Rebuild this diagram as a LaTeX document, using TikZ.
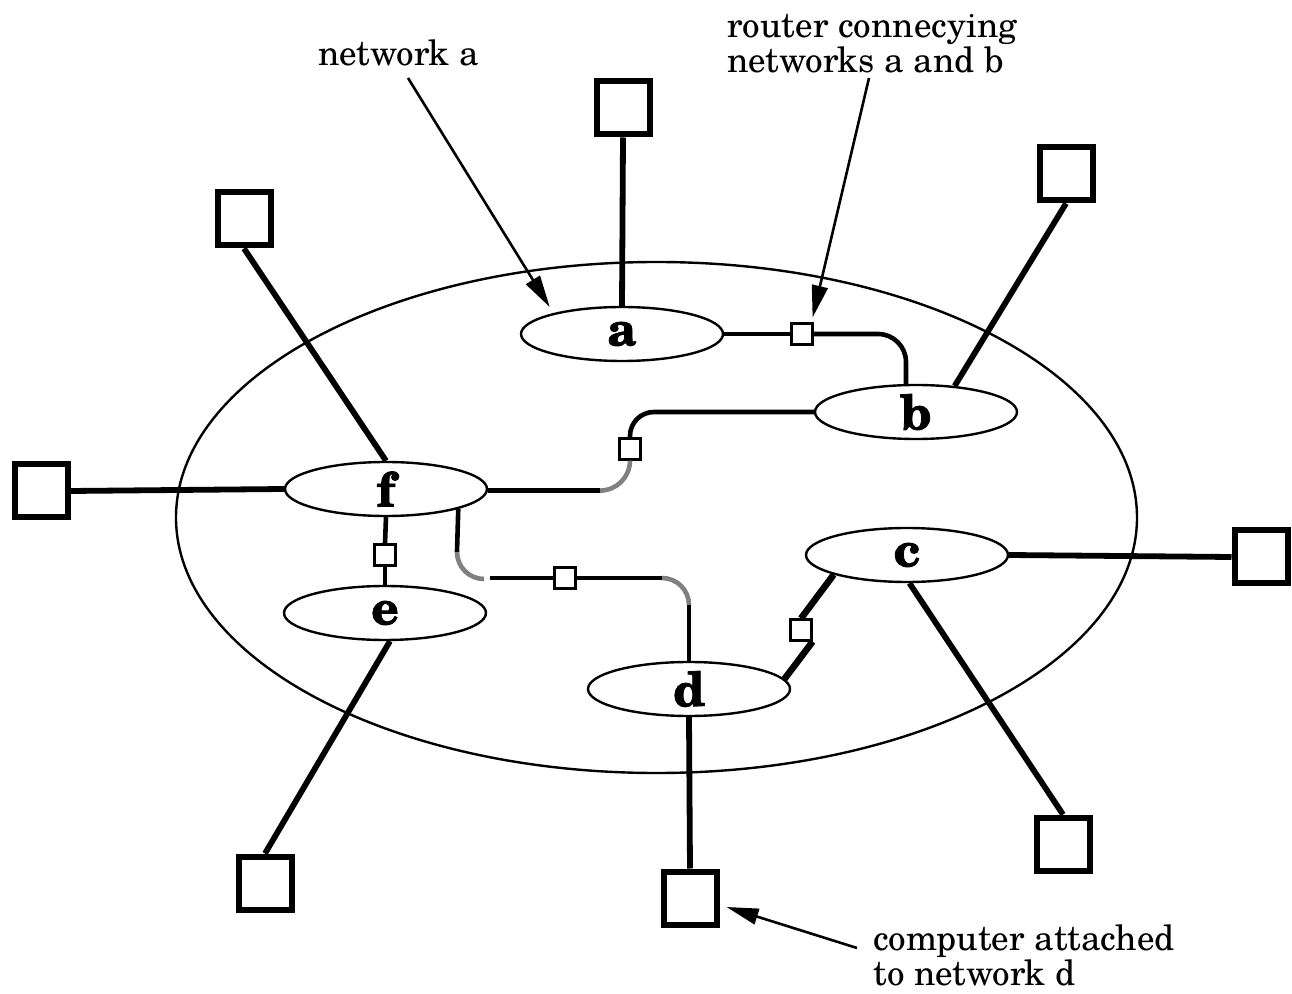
\documentclass[tikz,border=0pt]{standalone}
\usepackage{fontspec}
\setmainfont{TeX Gyre Schola}
\newfontfamily\netletterfont[FakeBold=1.6]{TeX Gyre Schola Bold}
\usetikzlibrary{shapes.geometric,arrows.meta,calc}
\begin{document}
\begin{tikzpicture}[x=0.5pt,y=-0.5pt,
  net/.style={line width=2.3pt},
  gnet/.style={line width=2.3pt, draw=gray},
  link/.style={line width=2.9pt},
  rlink/.style={line width=3.3pt},
  lan/.style={draw, ellipse, line width=1.2pt, minimum width=101pt, minimum height=27pt, inner sep=0pt, font=\fontsize{24}{24}\netletterfont},
  host/.style={draw, line width=3pt, minimum size=26.5pt, inner sep=0pt, fill=white},
  router/.style={draw, line width=1.1pt, minimum size=10.5pt, inner sep=0pt, fill=white},
  lbl/.style={inner sep=0pt, font=\fontsize{17.5}{17.5}\selectfont, align=left},
  ptr/.style={line width=1.3pt, -{Triangle[length=16pt,width=8pt]}}]
\useasboundingbox (0,0) rectangle (1292,994);

% outer boundary
\node[draw, ellipse, line width=1.2pt, minimum width=480.5pt, minimum height=255.5pt, inner sep=0pt] (net) at (656.5,517.5) {};

% networks
\node[lan] (a) at (622,334) {a};
\node[lan] (b) at (916,412) {b};
\node[lan] (c) at (907,555) {c};
\node[lan] (d) at (689,689) {d};
\node[lan] (e) at (385,613) {e};
\node[lan] (f) at (386,489) {f};

% computers
\node[host] (ha)  at (623,108)  {};
\node[host] (hb)  at (1066,174) {};
\node[host] (hf1) at (244,219)  {};
\node[host] (hf2) at (41,491)   {};
\node[host] (hc1) at (1261,557) {};
\node[host] (hc2) at (1063,844) {};
\node[host] (hd)  at (690,898)  {};
\node[host] (he)  at (265,883)  {};

% routers
\node[router] (rab) at (802,334) {};
\node[router] (rbf) at (630,449) {};
\node[router] (rfe) at (385,555) {};
\node[router] (rfd) at (565,578) {};
\node[router] (rcd) at (801,630) {};

% computer attachments
\draw[link] (ha.south) -- (a.north);
\draw[link] (hb.south) -- (b.34);
\draw[link] (hf1.south) -- (f.north);
\draw[link] (hf2.east) -- (f.west);
\draw[link] (c.east) -- (hc1.west);
\draw[link] (c.-85) -- (hc2.north);
\draw[link] (d.south) -- (hd.north);
\draw[link] (e.-80) -- (he.north);

% a -- b
\draw[net] (a.east) -- (rab.west);
\draw[net, rounded corners=14pt] (rab.east) -| ($(b.north)+(-10,0)$);

% b -- f
\draw[net, rounded corners=12pt] (b.west) -| (rbf.north);
\draw[gnet] (rbf.south) arc[start angle=0, end angle=-90, radius=15pt] coordinate (bf1);
\draw[net] (bf1) -- (bf1 -| f.east);

% f -- e
\draw[net] (f.south) -- (rfe.north);
\draw[net] (rfe.south) -- (e.north);

% f -- d
\coordinate (fd1) at (457,552);
\coordinate (fd2) at (490,578);
\coordinate (fd3) at (662,578);
\draw[net] (f.south east) -- (fd1);
\draw[gnet] (fd1) arc[start angle=180, end angle=270, radius=13.5pt];
\draw[net] (fd2) -- (rfd.west);
\draw[net] (rfd.east) -- (fd3);
\draw[gnet] (fd3) arc[start angle=90, end angle=0, radius=13.5pt] coordinate (fd4);
\draw[net] (fd4) -- (fd4 |- d.north);

% c -- d
\draw[rlink] (c.195) -- (rcd.north);
\draw[rlink] (rcd.south east) -- (d.6);

% labels (base = baseline of the last line)
\node[lbl, anchor=base west] (lna) at (318,66) {network a};
\node[lbl, anchor=base west] (lrt) at (727,73) {router connecying\\networks a and b};
\node[lbl, anchor=base west] (lcp) at (873,985) {computer attached\\to network d};

\coordinate (pa) at (408,78);
\coordinate (pr) at (869,78);
\coordinate (pc) at (857,948);
\draw[ptr] (pa) -- ($(a.north west)+(0,-7)$);
\draw[ptr] (pr) -- ($(rab.north east)+(-1,-5)$);
\draw[ptr] (pc) -- ($(hd.east)+(7,9)$);
\end{tikzpicture}
\end{document}
